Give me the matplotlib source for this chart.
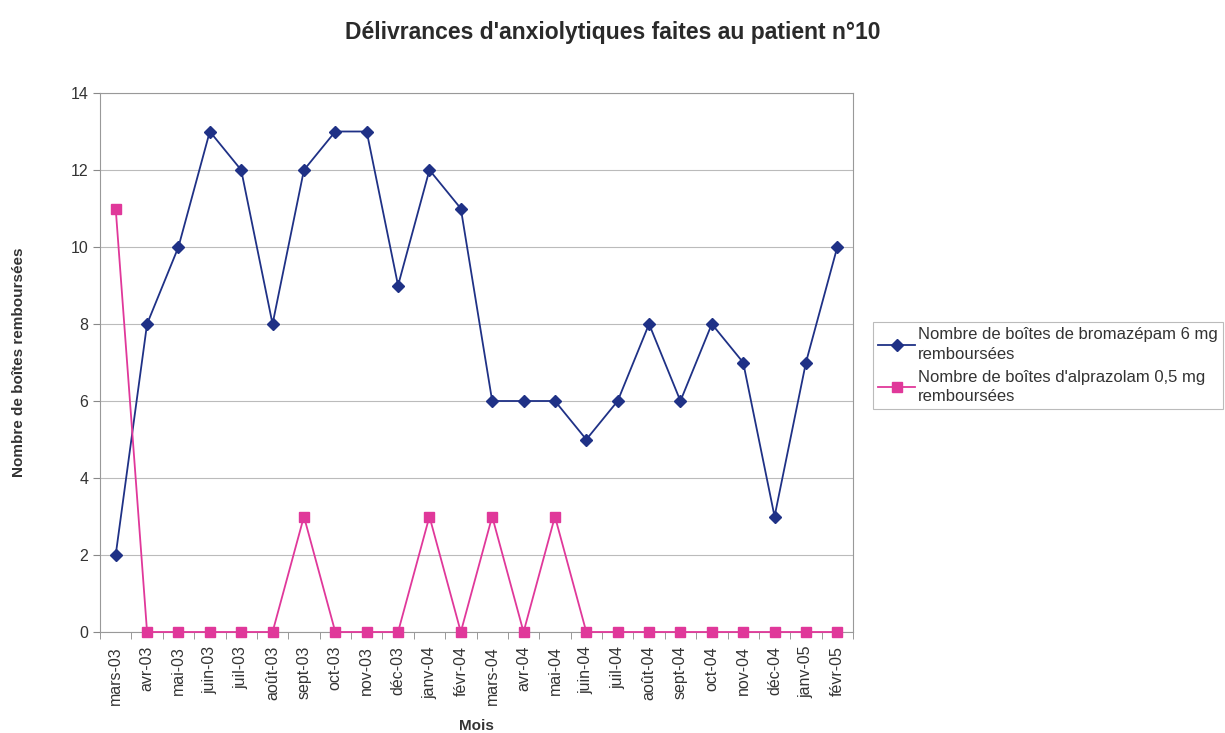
import matplotlib
matplotlib.use("Agg")
import matplotlib.pyplot as plt
import numpy as np

months = ["mars-03", "avr-03", "mai-03", "juin-03", "juil-03", "août-03", "sept-03",
          "oct-03", "nov-03", "déc-03", "janv-04", "févr-04", "mars-04", "avr-04",
          "mai-04", "juin-04", "juil-04", "août-04", "sept-04", "oct-04", "nov-04",
          "déc-04", "janv-05", "févr-05"]
bromazepam = [2, 8, 10, 13, 12, 8, 12, 13, 13, 9, 12, 11, 6, 6, 6, 5, 6, 8, 6, 8, 7, 3, 7, 10]
alprazolam = [11, 0, 0, 0, 0, 0, 3, 0, 0, 0, 3, 0, 3, 0, 3, 0, 0, 0, 0, 0, 0, 0, 0, 0]

plt.rcParams['font.family'] = ['Liberation Sans', 'DejaVu Sans']

fig = plt.figure(figsize=(12.25, 7.33), dpi=100)
ax = fig.add_axes([100/1225, 1-632/733, 753/1225, 539/733])

x = np.arange(len(months))
blue = "#1f3186"
pink = "#e0389a"
ax.plot(x, bromazepam, color=blue, marker="D", markersize=6, linewidth=1.3,
        clip_on=False, zorder=3,
        label="Nombre de boîtes de bromazépam 6 mg\nremboursées")
ax.plot(x, alprazolam, color=pink, marker="s", markersize=7, linewidth=1.3,
        clip_on=False, zorder=4,
        label="Nombre de boîtes d'alprazolam 0,5 mg\nremboursées")

ax.set_xlim(-0.5, len(months) - 0.5)
ax.set_ylim(0, 14)
ax.set_yticks(range(0, 15, 2))
ax.set_xticks(x)
ax.set_xticklabels(months, rotation=90, fontsize=11.5, color="#333333")
ax.tick_params(axis='y', labelsize=11.5, length=5, color="#888888", labelcolor="#333333")
ax.set_xticks(np.arange(-0.5, len(months), 1), minor=True)
ax.tick_params(axis='x', which='major', length=0, pad=10)
ax.tick_params(axis='x', which='minor', length=5, color="#888888")
ax.yaxis.grid(True, color="#bbbbbb", linewidth=0.8)
ax.set_axisbelow(True)
for s in ax.spines.values():
    s.set_color("#999999")

ax.set_xlabel("Mois", fontsize=11, fontweight="bold", color="#333333")
ax.xaxis.set_label_coords(0.5, -(719 - 632) / 539)
ax.set_ylabel("Nombre de boîtes remboursées", fontsize=11, fontweight="bold", color="#333333")
ax.yaxis.set_label_coords(-(100 - 26) / 753, 0.5)

fig.text(0.5, 1-32/733, "Délivrances d'anxiolytiques faites au patient n°10",
         ha="center", va="center", fontsize=16.5, fontweight="bold", color="#2a2a2a")

leg = fig.legend(loc="upper left", bbox_to_anchor=(865/1225, 1-314/733), fontsize=12,
                 frameon=True, fancybox=False, edgecolor="#aaaaaa", handlelength=2.2,
                 handletextpad=0.2, borderpad=0.3, labelspacing=0.5,
                 labelcolor="#333333")
for t in leg.get_texts():
    t.set_linespacing(1.35)
leg.get_frame().set_linewidth(0.8)

fig.savefig("out.png", dpi=100)
